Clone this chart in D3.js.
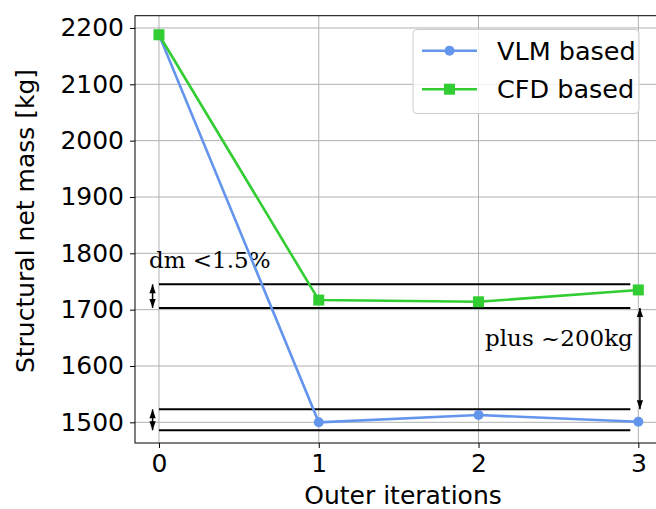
<!DOCTYPE html>
<meta charset="utf-8">
<head>
<script src="https://d3js.org/d3.v7.min.js"></script>
<style>
  body { margin: 0; background: #fff; }
  text { font-family: "DejaVu Sans", sans-serif; }
  .note { font-family: "DejaVu Serif", serif; }
</style>
</head>
<body>
<div id="chart"></div>
<script>
// data
var iterations = [0, 1, 2, 3];
var vlmMass = [2188, 1500, 1513, 1501];
var cfdMass = [2188, 1717, 1714, 1735];
var yTicks = [1500, 1600, 1700, 1800, 1900, 2000, 2100, 2200];
var bandLevels = [1745, 1703, 1523, 1486];   // horizontal reference lines
var bandEnd = 2.95;
var arrows = [
  { x: -0.04, from: 1745, to: 1703 },
  { x: -0.04, from: 1523, to: 1486 },
  { x: 3.01, from: 1703, to: 1523 }
];

var width = 656, height = 509;
var svg = d3.select("#chart").append("svg")
  .attr("width", width).attr("height", height);

var x = d3.scaleLinear().domain([-0.15, 3.15]).range([135, 662.3]);
var y = d3.scaleLinear().domain([1463.3, 2221.8]).range([443, 15.7]);

var defs = svg.append("defs");
defs.append("marker")
  .attr("id", "head")
  .attr("viewBox", "0 0 10 10")
  .attr("refX", 10).attr("refY", 5)
  .attr("markerWidth", 10).attr("markerHeight", 9)
  .attr("markerUnits", "userSpaceOnUse")
  .attr("orient", "auto-start-reverse")
  .append("path").attr("d", "M0,1.5 L10,5 L0,8.5 z").attr("fill", "#000");

// grid
svg.append("g").selectAll("line").data(iterations).enter().append("line")
  .attr("x1", d => x(d)).attr("x2", d => x(d))
  .attr("y1", 15.7).attr("y2", 443)
  .attr("stroke", "#b0b0b0").attr("stroke-width", 1);
svg.append("g").selectAll("line").data(yTicks).enter().append("line")
  .attr("x1", 135).attr("x2", 662)
  .attr("y1", d => y(d)).attr("y2", d => y(d))
  .attr("stroke", "#b0b0b0").attr("stroke-width", 1);

// axes
var xAxis = svg.append("g").attr("transform", "translate(0,443)")
  .call(d3.axisBottom(x).tickValues(iterations).tickSize(5).tickPadding(6).tickFormat(d3.format("d")));
var yAxis = svg.append("g").attr("transform", "translate(135,0)")
  .call(d3.axisLeft(y).tickValues(yTicks).tickSize(5).tickPadding(6).tickFormat(d3.format("d")));
[xAxis, yAxis].forEach(function (g) {
  g.select(".domain").remove();
  g.selectAll("line").attr("stroke", "#000").attr("stroke-width", 1);
  g.selectAll("text").attr("font-size", 25).attr("font-family", "DejaVu Sans").attr("fill", "#000");
});

// frame
svg.append("rect")
  .attr("x", 135).attr("y", 15.7)
  .attr("width", 662.3 - 135).attr("height", 443 - 15.7)
  .attr("fill", "none").attr("stroke", "#000").attr("stroke-width", 1);

// axis labels
svg.append("text")
  .attr("x", 403).attr("y", 504)
  .attr("text-anchor", "middle").attr("font-size", 25)
  .text("Outer iterations");
svg.append("text")
  .attr("transform", "translate(34,221) rotate(-90)")
  .attr("text-anchor", "middle").attr("font-size", 25)
  .text("Structural net mass [kg]");

// reference lines and arrows
svg.append("g").selectAll("line").data(bandLevels).enter().append("line")
  .attr("x1", x(0)).attr("x2", x(bandEnd))
  .attr("y1", d => y(d)).attr("y2", d => y(d))
  .attr("stroke", "#000").attr("stroke-width", 2);
svg.append("g").selectAll("line").data(arrows).enter().append("line")
  .attr("x1", d => x(d.x)).attr("x2", d => x(d.x))
  .attr("y1", d => y(d.from)).attr("y2", d => y(d.to))
  .attr("stroke", "#000").attr("stroke-width", 1.5)
  .attr("marker-start", "url(#head)").attr("marker-end", "url(#head)");

svg.append("text").attr("class", "note")
  .attr("x", 149).attr("y", 268).attr("font-size", 23)
  .text("dm <1.5%");
svg.append("text").attr("class", "note")
  .attr("x", 485).attr("y", 346).attr("font-size", 23)
  .text("plus ~200kg");

// series
var line = d3.line().x((d, i) => x(iterations[i])).y(d => y(d));
svg.append("path").datum(vlmMass)
  .attr("d", line).attr("fill", "none")
  .attr("stroke", "#6495ED").attr("stroke-width", 2.6);
svg.append("g").selectAll("circle").data(vlmMass).enter().append("circle")
  .attr("cx", (d, i) => x(iterations[i])).attr("cy", d => y(d))
  .attr("r", 5).attr("fill", "#6495ED");

svg.append("path").datum(cfdMass)
  .attr("d", line).attr("fill", "none")
  .attr("stroke", "#32CD32").attr("stroke-width", 2.6);
svg.append("g").selectAll("rect").data(cfdMass).enter().append("rect")
  .attr("x", (d, i) => x(iterations[i]) - 5.5).attr("y", d => y(d) - 5.5)
  .attr("width", 11).attr("height", 11).attr("fill", "#32CD32");

// legend
var legend = svg.append("g");
legend.append("rect")
  .attr("x", 413).attr("y", 29.5).attr("width", 226).attr("height", 84)
  .attr("rx", 4).attr("fill", "#fff").attr("fill-opacity", 0.8)
  .attr("stroke", "#ccc").attr("stroke-width", 1);
var items = [
  { name: "VLM based", color: "#6495ED", shape: "circle" },
  { name: "CFD based", color: "#32CD32", shape: "square" }
];
items.forEach(function (it, i) {
  var ly = 50.7 + i * 38.5;
  legend.append("line").attr("x1", 422).attr("x2", 477)
    .attr("y1", ly).attr("y2", ly)
    .attr("stroke", it.color).attr("stroke-width", 2.6);
  if (it.shape == "circle") {
    legend.append("circle").attr("cx", 449.5).attr("cy", ly).attr("r", 5).attr("fill", it.color);
  } else {
    legend.append("rect").attr("x", 444).attr("y", ly - 5.5).attr("width", 11).attr("height", 11).attr("fill", it.color);
  }
  legend.append("text").attr("x", 497).attr("y", ly + 9)
    .attr("font-size", 25.5).text(it.name);
});
</script>
</body>
